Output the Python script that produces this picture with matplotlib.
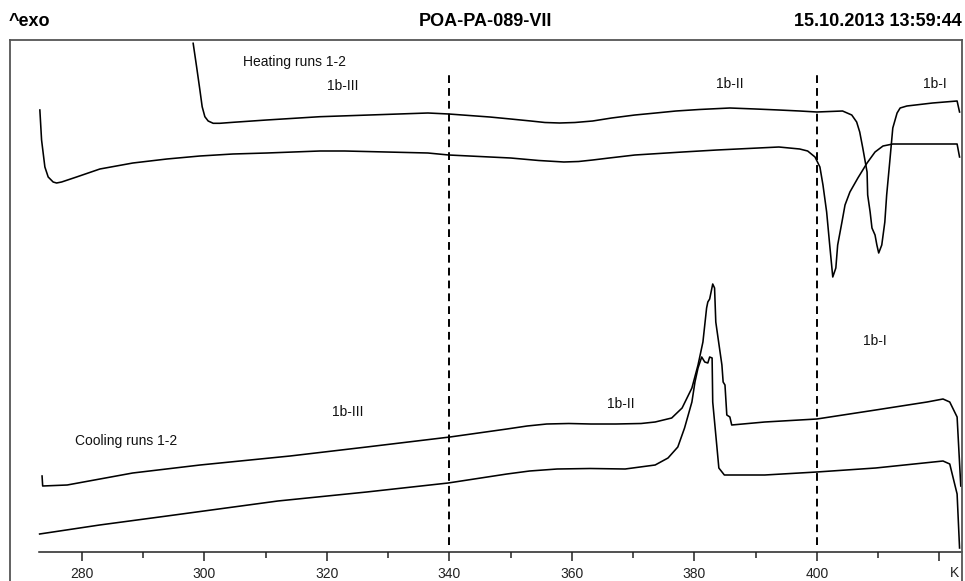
import matplotlib
matplotlib.use("Agg")
import matplotlib.pyplot as plt
from matplotlib.lines import Line2D

plt.rcParams['font.family'] = ['Liberation Sans', 'DejaVu Sans']

# ---- data (temperature in K, signal in arbitrary units, exo up) ----
heat1_T = [298.17, 298.73, 299.27, 299.64, 300.08, 300.62, 301.44, 302.53, 304.70, 310.16,
           318.86, 336.5, 339.9, 346.6, 350.0, 353.3, 355.6, 358.0, 360.5, 363.4,
           366.5, 370.3, 373.7, 377.0, 380.8, 385.8, 390.0, 393.8, 397.2, 400.0,
           404.2, 405.7, 406.5, 407.0, 407.5, 408.2, 408.3, 408.7, 409.0, 409.5,
           409.8, 410.1, 410.6, 411.1, 411.4, 411.9, 412.4, 413.1, 413.6, 414.7,
           418.9, 422.9, 423.3]
heat1_s = [50.87, 48.53, 46.2, 44.53, 43.53, 43.1, 42.87, 42.87, 42.97, 43.2,
           43.53, 43.9, 43.8, 43.5, 43.3, 43.1, 42.95, 42.9, 42.95, 43.1,
           43.4, 43.7, 43.9, 44.1, 44.25, 44.4, 44.3, 44.2, 44.1, 44.0,
           44.1, 43.7, 43.0, 42.0, 40.4, 38.0, 35.7, 34.0, 32.4, 31.7,
           30.7, 29.9, 30.7, 33.0, 35.7, 39.0, 42.4, 43.9, 44.4, 44.6,
           44.9, 45.1, 44.0]

heat2_T = [273.14, 273.42, 273.96, 274.50, 275.31, 275.87, 276.69, 279.13, 282.94, 288.33,
           293.88, 299.27, 304.65, 310.20, 318.86, 322.9, 336.5, 339.9, 350.0, 354.6,
           358.7, 361.1, 363.4, 366.1, 370.3, 378.1, 383.7, 393.8, 397.2, 398.5,
           399.7, 400.5, 401.0, 401.6, 402.1, 402.6, 403.1, 403.4, 404.1, 404.6,
           405.4, 406.7, 408.2, 409.5, 410.8, 412.4, 416.3, 422.9, 423.3]
heat2_s = [44.2, 41.2, 38.5, 37.5, 37.0, 36.9, 37.0, 37.5, 38.3, 38.9,
           39.3, 39.6, 39.8, 39.9, 40.1, 40.1, 39.9, 39.7, 39.4, 39.15,
           39.0, 39.05, 39.2, 39.4, 39.7, 40.0, 40.2, 40.5, 40.3, 40.1,
           39.5, 38.5, 36.7, 34.0, 30.7, 27.5, 28.4, 30.7, 33.0, 34.7,
           36.0, 37.4, 38.9, 40.0, 40.6, 40.8, 40.8, 40.8, 39.5]

cool1_T = [273.5, 273.6, 277.6, 288.3, 299.3, 314.0, 326.5, 340.1, 349.4, 352.7,
           355.9, 359.5, 363.1, 367.2, 371.3, 373.6, 376.3, 378.0, 379.6, 380.6,
           381.4, 382.0, 382.2, 382.5, 382.9, 383.0, 383.3, 383.5, 383.8, 384.5,
           384.7, 385.0, 385.3, 385.8, 386.1, 391.5, 400.0, 409.6, 418.0, 420.6,
           421.7, 422.9, 423.5]
cool1_s = [7.6, 6.6, 6.7, 7.9, 8.7, 9.6, 10.5, 11.5, 12.3, 12.6,
           12.8, 12.85, 12.8, 12.8, 12.85, 13.0, 13.4, 14.4, 16.4, 18.7,
           21.0, 24.4, 25.0, 25.3, 26.5, 26.8, 26.4, 23.0, 21.7, 18.7,
           17.0, 16.7, 13.7, 13.5, 12.7, 13.0, 13.3, 14.2, 15.0, 15.3,
           15.0, 13.5, 6.6]

cool2_T = [273.1, 282.9, 293.9, 312.0, 326.5, 339.8, 349.4, 353.1, 357.6, 363.0,
           368.7, 373.6, 375.7, 377.3, 378.4, 379.6, 380.1, 380.6, 381.2, 381.7,
           382.2, 382.5, 382.9, 383.0, 383.7, 384.0, 384.9, 391.5, 400.0, 409.6,
           420.6, 421.7, 422.9, 423.3]
cool2_s = [1.8, 2.7, 3.6, 5.1, 6.0, 6.9, 7.8, 8.1, 8.3, 8.35,
           8.3, 8.7, 9.4, 10.5, 12.4, 15.0, 17.0, 18.4, 19.5, 19.0,
           18.9, 19.5, 19.4, 15.0, 10.4, 8.4, 7.7, 7.7, 8.0, 8.4,
           9.1, 8.8, 5.8, 0.4]

phase_bounds = [340, 400]
major_ticks = [280, 300, 320, 340, 360, 380, 400, 420]
major_labels = ['280', '300', '320', '340', '360', '380', '400', '']
minor_ticks = [290, 310, 330, 350, 370, 390, 410]

annotations = [
    ("Heating runs 1-2", 306.3, 49.0, 'left'),
    ("1b-III", 322.6, 46.6, 'center'),
    ("1b-II", 385.8, 46.8, 'center'),
    ("1b-I", 419.3, 46.8, 'center'),
    ("Cooling runs 1-2", 278.9, 11.1, 'left'),
    ("1b-III", 323.4, 14.0, 'center'),
    ("1b-II", 368.0, 14.8, 'center'),
    ("1b-I", 409.5, 21.1, 'center'),
]

# ---- figure ----
W, H = 965, 581
fig = plt.figure(figsize=(W / 100, H / 100), dpi=100)

def fx(px):
    return px / W

def fy(py):
    return 1 - py / H

ax = fig.add_axes([fx(39), fy(552), fx(962) - fx(39), fy(40) - fy(552)])
ax.set_xlim(273.0, 423.7)
ax.set_ylim(0, 51.2)
ax.patch.set_alpha(0)
for sp in ['left', 'right', 'top']:
    ax.spines[sp].set_visible(False)
ax.spines['bottom'].set_linewidth(1.1)
ax.spines['bottom'].set_color('#222222')
ax.set_yticks([])

lw = 1.15
for T, s in [(heat1_T, heat1_s), (heat2_T, heat2_s), (cool1_T, cool1_s), (cool2_T, cool2_s)]:
    ax.plot(T, s, color='black', lw=lw, solid_joinstyle='round', clip_on=False)

for b in phase_bounds:
    ax.vlines(b, 0.7, 47.7, colors='black', linestyles=(0, (4, 2.6)), lw=1.4)

for txt, x, y, ha in annotations:
    ax.text(x, y, txt, ha=ha, va='center', fontsize=10, color='#111111')

ax.set_xticks(major_ticks)
ax.set_xticklabels(major_labels)
ax.set_xticks(minor_ticks, minor=True)
ax.tick_params(axis='x', which='major', direction='out', length=6.5, width=1.1,
               pad=4, labelsize=10, colors='#222222')
ax.tick_params(axis='x', which='minor', direction='out', length=4.3, width=1.1,
               colors='#222222')
ax.text(422.5, -0.041, 'K', transform=ax.get_xaxis_transform(), ha='center',
        va='center', fontsize=10, color='#222222')

# frame box
fc = '#555555'
fig.add_artist(Line2D([fx(10), fx(10)], [fy(40), 0], color=fc, lw=1.3))
fig.add_artist(Line2D([fx(10), fx(962)], [fy(40), fy(40)], color=fc, lw=1.3))
fig.add_artist(Line2D([fx(962), fx(962)], [fy(40), 0], color=fc, lw=1.3))

# header
hfont = dict(fontsize=13, fontweight='bold', va='center', color='black')
fig.text(fx(9), fy(22), '^exo', ha='left', **hfont)
fig.text(fx(485), fy(22), 'POA-PA-089-VII', ha='center', **hfont)
fig.text(fx(962), fy(22), '15.10.2013 13:59:44', ha='right', **hfont)

fig.savefig('out.png', dpi=100)
